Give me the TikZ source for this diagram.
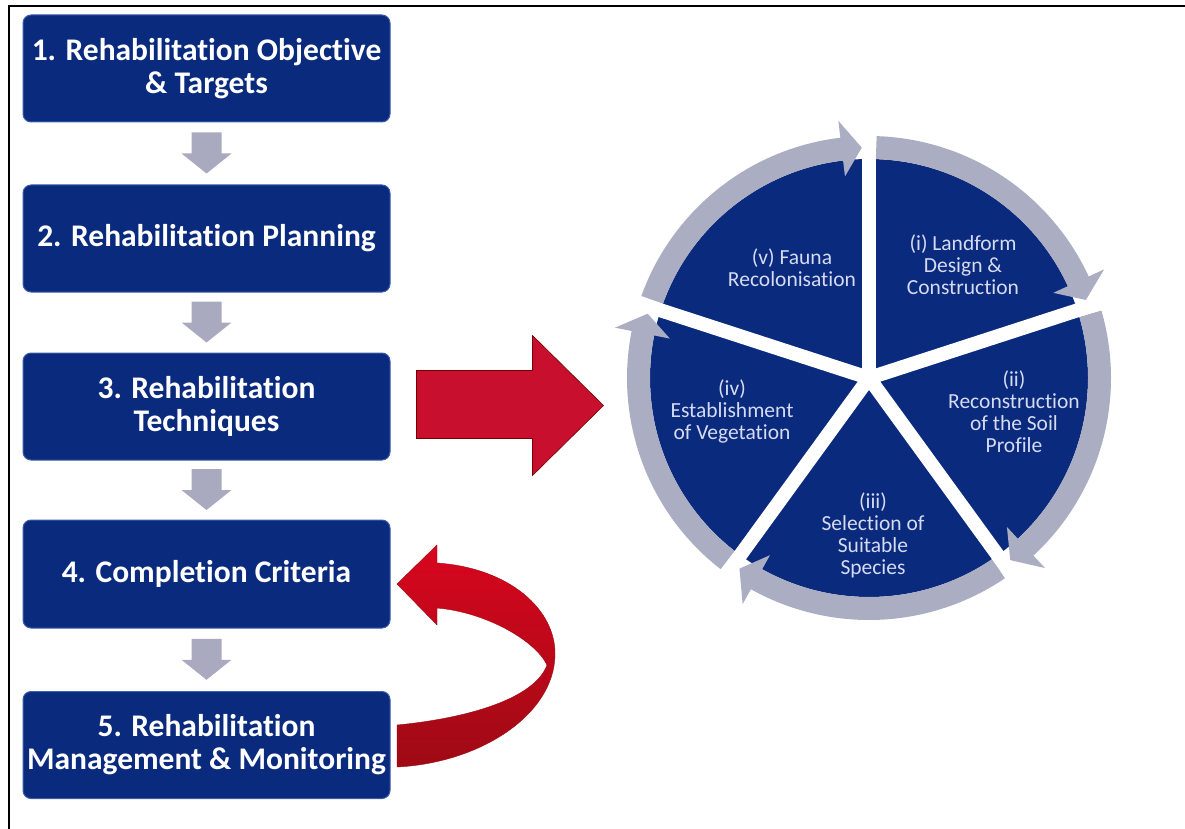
\documentclass[tikz,border=0pt]{standalone}
\usepackage{fontspec}
\setmainfont{Carlito}[Ligatures=NoCommon]
\usetikzlibrary{calc}
\definecolor{navy}{HTML}{0A2A7E}
\definecolor{navyedge}{HTML}{3B5DA8}
\definecolor{ringgray}{HTML}{ABADC2}
\definecolor{arrgray}{HTML}{A9AABF}
\definecolor{redarr}{HTML}{C8102E}
\definecolor{redtop}{HTML}{D8061E}
\definecolor{redbot}{HTML}{9E0A14}
\definecolor{lbl}{HTML}{D6DBF2}
\newcommand\grayarr[2]{%
  \path ($(#1.south)!0.5!(#2.north)$) coordinate (m#1#2);
  \fill[garrow] ($(m#1#2)+(-15,21)$) -- ($(m#1#2)+(15,21)$) -- ($(m#1#2)+(15,0)$) -- ($(m#1#2)+(25,0)$) -- ($(m#1#2)+(0,-20)$) -- ($(m#1#2)+(-25,0)$) -- ($(m#1#2)+(-15,0)$) -- cycle;}
\begin{document}
\begin{tikzpicture}[x=1pt,y=1pt,
  box/.style={fill=navy, draw=navyedge, line width=1pt, rounded corners=8pt, minimum width=367pt, minimum height=107pt, inner sep=0pt, align=center, text=white, font=\bfseries\fontsize{31.5}{33}\selectfont},
  garrow/.style={fill=arrgray},
  lab/.style={text=lbl, align=center, font=\fontsize{21.5}{22}\selectfont, inner sep=0pt},
]
\useasboundingbox (0,0) rectangle (1185,-829);
\draw[line width=1.6pt] (9,-829) -- (9,-6) -- (1185,-6);

% boxes
\node[box] (b1) at (206.5,-68.5) {1. Rehabilitation Objective\\\& Targets};
\node[box] (b2) at (206.5,-238.5) {2. Rehabilitation Planning};
\node[box] (b3) at (206.5,-406.5) {3. Rehabilitation\\Techniques};
\node[box, minimum height=108pt] (b4) at (206.5,-574) {4. Completion Criteria};
\node[box] (b5) at (206.5,-745) {5. Rehabilitation\\Management \& Monitoring};

% gray down arrows
\grayarr{b1}{b2}
\grayarr{b2}{b3}
\grayarr{b3}{b4}
\grayarr{b4}{b5}

% red straight arrow
\filldraw[fill=redarr, draw=red!45!black, line width=0.6pt]
  ($(b3.east)+(26,36)$) -- ($(b3.east)+(142,36)$) -- ($(b3.east)+(142,71)$) -- ($(b3.east)+(213,1)$)
  -- ($(b3.east)+(142,-69)$) -- ($(b3.east)+(142,-32)$) -- ($(b3.east)+(26,-32)$) -- cycle;

% curved red arrow (from box 5 back to box 4)
\path[top color=redtop, bottom color=redbot, draw=redbot, line width=0.4pt]
  (397,-767) -- (397,-725) .. controls (470,-718) and (535,-698) .. (547,-665)
  .. controls (535,-640) and (485,-612) .. (437,-608) -- (437,-625) -- (397,-584) -- (437,-545) -- (437,-563)
  .. controls (510,-568) and (556,-610) .. (555,-655)
  .. controls (554,-715) and (480,-763) .. (397,-767) -- cycle;

% cycle diagram
\coordinate (C) at (869,-378);
\fill[navy] (C) circle (219);
\foreach \s/\e in {90/18, 18/-54, -54/-126, -126/-198, -198/-270} {
  \draw[ringgray, line width=23pt] ($(C)+({\s-1.8}:230.5)$) arc[start angle={\s-1.8}, end angle={\e+6.5}, radius=230.5];
  \fill[ringgray] ($(C)+({\e+6.8}:203)$) -- ($(C)+({\e+1.8}:230.5)$) -- ($(C)+({\e+6.8}:259)$) -- cycle;
}
\foreach \a in {90,18,-54,-126,162}
  \draw[white, line width=14pt] (C) -- ($(C)+(\a:262)$);

\node[lab] (t1) at (963,-265) {(i) Landform\\Design \&\\Construction};
\node[lab] (t2) at (1014,-412) {(ii)\\Reconstruction\\of the Soil\\Profile};
\node[lab] (t3) at (873,-535) {(iii)\\Selection of\\Suitable\\Species};
\node[lab] (t4) at (732,-411) {(iv)\\Establishment\\of Vegetation};
\node[lab] (t5) at (792,-268) {(v) Fauna\\Recolonisation};
\end{tikzpicture}
\end{document}
